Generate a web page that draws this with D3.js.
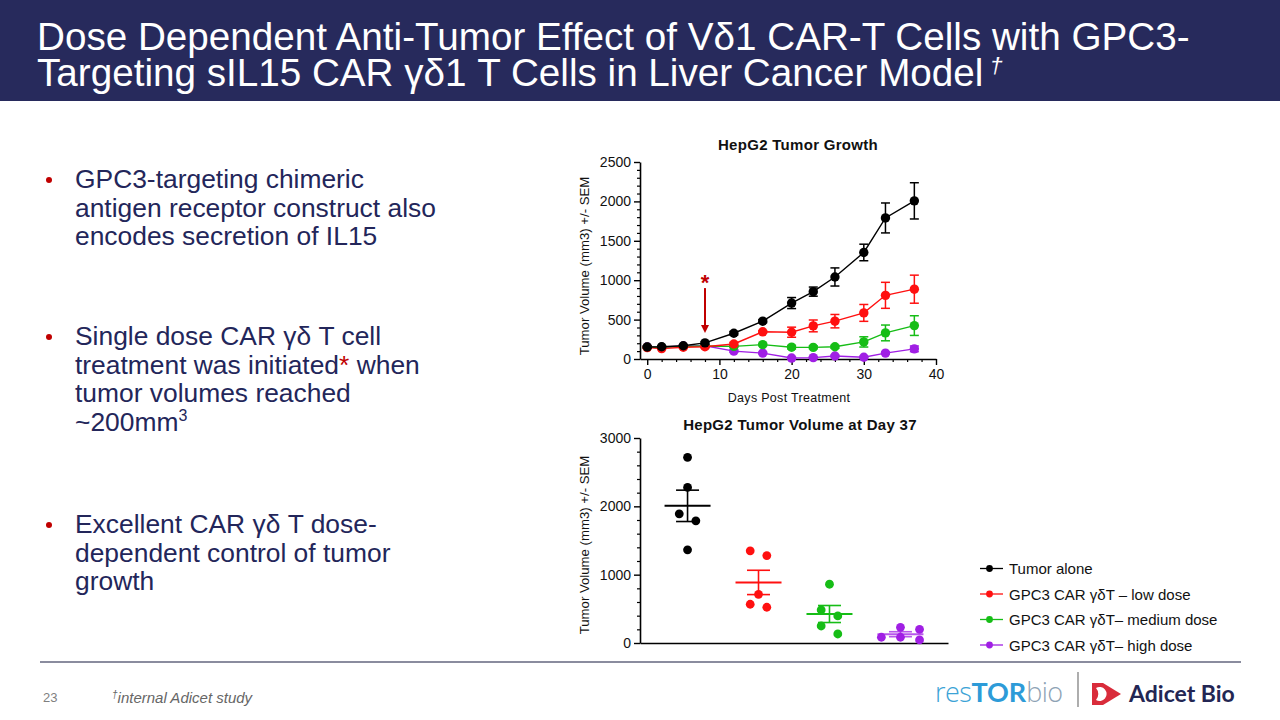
<!DOCTYPE html>
<html><head><meta charset="utf-8">
<script src="https://cdn.jsdelivr.net/npm/d3@7"></script>
<style>
html,body{margin:0;padding:0;background:#fff;}
svg{display:block;font-family:Arial,"Liberation Sans",sans-serif;}
</style></head>
<body><svg id="c" width="1280" height="720"></svg>
<script>
// ---------------- DATA ----------------
const titleLines = ["Dose Dependent Anti-Tumor Effect of V\u03b41 CAR-T Cells with GPC3-",
                    "Targeting sIL15 CAR \u03b3\u03b41 T Cells in Liver Cancer Model"];
const seriesNames = ["Tumor alone", "GPC3 CAR \u03b3\u03b4T \u2013 low dose", "GPC3 CAR \u03b3\u03b4T\u2013 medium dose", "GPC3 CAR \u03b3\u03b4T\u2013 high dose"];
const days = [0, 2, 5, 8, 12, 16, 20, 23, 26, 30, 33, 37];
const tumorAlone    = [152, 155, 168, 205, 327, 480, 710, 855, 1041, 1352, 1790, 2007];
const tumorAloneSem = [12, 10, 12, 15, 22, 20, 70, 58, 115, 105, 190, 230];
const lowDose       = [145, 132, 150, 155, 191, 345, 340, 420, 480, 585, 808, 886];
const lowDoseSem    = [10, 10, 10, 12, 20, 15, 64, 75, 85, 107, 165, 178];
const mediumDose    = [150, 150, 160, 165, 160, 183, 150, 148, 155, 217, 331, 424];
const mediumDoseSem = [10, 10, 10, 10, 12, 15, 22, 18, 18, 65, 100, 125];
const highDose      = [155, 150, 165, 168, 100, 75, 12, 18, 38, 22, 75, 129];
const highDoseSem   = [10, 10, 10, 10, 15, 10, 10, 10, 10, 10, 12, 36];
const treatmentDay = 8;
const day37Tumor  = [2717, 2277, 1891, 1788, 1363];
const day37Low    = [1349, 1280, 713, 567, 523];
const day37Medium = [860, 484, 396, 249, 132];
const day37High   = [230, 200, 84, 84, 45];
const growthYTicks = [0, 500, 1000, 1500, 2000, 2500];
const growthXTicks = [0, 10, 20, 30, 40];
const day37YTicks = [0, 1000, 2000, 3000];
const colors = ["#000000", "#ff1010", "#16bd16", "#a01fe4"];

// ---------------- SLIDE ----------------
const svg = d3.select("#c");
const navy = "#272a5c";
svg.append("rect").attr("x",0).attr("y",0).attr("width",1280).attr("height",101).attr("fill",navy);
// title: one text block, two lines, condensed to the slide width
const titleFs = 38;
const tg = svg.append("g");
const tt = tg.append("text").attr("fill","#fff").attr("font-size",titleFs);
tt.append("tspan").attr("x",0).attr("y",0).text(titleLines[0]);
const t2 = tt.append("tspan").attr("x",0).attr("y",36).text(titleLines[1]);
tt.append("tspan").attr("font-size",titleFs*0.6).attr("font-style","italic").attr("dy",-13).text(" \u2020");
const firstLen = tt.select("tspan").node().getComputedTextLength();
const sx = 1153/firstLen;
tg.attr("transform",`translate(37,50) scale(${sx},1)`);

// bullets
const textNavy = "#23265a";
const bullets = [
  {y:188, lines:[["GPC3-targeting chimeric"],["antigen receptor construct also"],["encodes secretion of IL15"]]},
  {y:345, lines:[["Single dose CAR \u03b3\u03b4 T cell"],["treatment was initiated", {t:"*",c:"#c00000"}, " when"],["tumor volumes reached"],["~200mm", {t:"3",sup:true}]]},
  {y:533, lines:[["Excellent CAR \u03b3\u03b4 T dose-"],["dependent control of tumor"],["growth"]]}
];
bullets.forEach(b=>{
  svg.append("circle").attr("cx",49).attr("cy",b.y-8).attr("r",3).attr("fill","#c00000");
  b.lines.forEach((ln,i)=>{
    const t = svg.append("text").attr("x",75).attr("y",b.y+i*28.5).attr("font-size",26.4).attr("fill",textNavy);
    ln.forEach(p=>{
      if (typeof p === "string") t.append("tspan").text(p);
      else if (p.sup) t.append("tspan").attr("font-size",16).attr("dy",-10).text(p.t);
      else t.append("tspan").attr("fill",p.c).text(p.t);
    });
  });
});

// footer
svg.append("line").attr("x1",40).attr("x2",1241).attr("y1",662).attr("y2",662).attr("stroke","#8a8c9e").attr("stroke-width",2);
svg.append("text").attr("x",43).attr("y",702).attr("font-size",13).attr("fill","#7f7f7f").text("23");
svg.append("text").attr("x",112).attr("y",703).attr("font-size",15).attr("font-style","italic").attr("fill","#666")
  .html('<tspan font-size="10" dy="-5">\u2020</tspan><tspan dy="5">internal Adicet study</tspan>');
// logos
const lg = svg.append("text").attr("x",935).attr("y",702).attr("font-size",27);
lg.append("tspan").attr("fill","#3ba3d6").attr("font-weight",300).attr("font-family","'Open Sans',Lato,sans-serif").attr("letter-spacing",-0.5).text("res");
lg.append("tspan").attr("fill","#2d9bd8").attr("font-weight",700).attr("font-family","Lato,'Open Sans',sans-serif").text("TOR");
lg.append("tspan").attr("fill","#8ea3b5").attr("font-weight",300).attr("font-family","'Open Sans',Lato,sans-serif").attr("letter-spacing",-0.5).text("bio");
svg.append("line").attr("x1",1078).attr("x2",1078).attr("y1",672).attr("y2",707).attr("stroke","#777").attr("stroke-width",1.2);
svg.append("path").attr("d","M1092,683 L1103,683 L1121,694 L1103,705 L1092,705 Z").attr("fill","#d92c3b");
svg.append("path").attr("d","M1096,688 A7,7 0 1 1 1096,700 A9,9 0 0 0 1096,688 Z").attr("fill","#fff");
svg.append("text").attr("x",1129).attr("y",702).attr("font-size",23).attr("font-weight",700)
  .attr("font-family","Lato,'Open Sans',sans-serif").attr("fill","#232653").text("Adicet Bio");

// ---------------- TOP CHART ----------------
const x1 = d3.scaleLinear().domain([-1,40]).range([640,936]);
const y1 = d3.scaleLinear().domain([0,2500]).range([359,162]);
const g1 = svg.append("g");
g1.append("text").attr("x",798).attr("y",150).attr("text-anchor","middle").attr("font-size",15).attr("font-weight",700)
  .attr("letter-spacing",0.3).attr("fill","#111").text("HepG2 Tumor Growth");
g1.append("text").attr("transform","translate(589,266) rotate(-90)").attr("text-anchor","middle").attr("font-size",13.2)
  .attr("fill","#111").text("Tumor Volume (mm3) +/- SEM");
g1.append("text").attr("x",789).attr("y",402).attr("text-anchor","middle").attr("font-size",12.5).attr("letter-spacing",0.3)
  .attr("fill","#111").text("Days Post Treatment");

const fmt = d3.format("d");
function styleAxis(g){
  g.selectAll(".domain").attr("stroke","#000").attr("stroke-width",1.6);
  g.selectAll(".tick line").attr("stroke","#000").attr("stroke-width",1.4);
  g.selectAll(".tick text").attr("font-size",14).attr("fill","#111").attr("font-family","Arial,'Liberation Sans',sans-serif");
}
// y axis
const ya1 = g1.append("g").attr("transform","translate(640,0)")
  .call(d3.axisLeft(y1).tickValues(growthYTicks).tickFormat(fmt).tickSize(6).tickPadding(3).tickSizeOuter(0));
styleAxis(ya1);
g1.append("g").attr("transform","translate(640,0)")
  .call(d3.axisLeft(y1).tickValues(d3.range(0,2501,100).filter(v=>v%500)).tickSize(3).tickFormat(""))
  .call(g=>{g.select(".domain").remove(); g.selectAll("line").attr("stroke","#000").attr("stroke-width",1.2);});
// x axis
const xa1 = g1.append("g").attr("transform","translate(0,359)")
  .call(d3.axisBottom(x1).tickValues(growthXTicks).tickFormat(fmt).tickSize(6).tickPadding(4).tickSizeOuter(0));
styleAxis(xa1);
g1.append("g").attr("transform","translate(0,359)")
  .call(d3.axisBottom(x1).tickValues(d3.range(2,40,2).filter(v=>v%10)).tickSize(3).tickFormat(""))
  .call(g=>{g.select(".domain").remove(); g.selectAll("line").attr("stroke","#000").attr("stroke-width",1.2);});

const series = [
  {vals:tumorAlone, sem:tumorAloneSem, c:colors[0]},
  {vals:lowDose, sem:lowDoseSem, c:colors[1]},
  {vals:mediumDose, sem:mediumDoseSem, c:colors[2]},
  {vals:highDose, sem:highDoseSem, c:colors[3]}
];
const line = d3.line().x(d=>x1(d.d)).y(d=>y1(d.v));
series.slice().reverse().forEach(s=>{
  const pts = days.map((d,i)=>({d, v:s.vals[i], e:s.sem[i]}));
  const gs = g1.append("g");
  gs.append("path").datum(pts).attr("d",line).attr("fill","none").attr("stroke",s.c).attr("stroke-width",1.4);
  const eb = gs.selectAll("g.eb").data(pts).join("g").attr("stroke",s.c).attr("stroke-width",1.5);
  eb.append("line").attr("x1",d=>x1(d.d)).attr("x2",d=>x1(d.d)).attr("y1",d=>y1(d.v+d.e)).attr("y2",d=>y1(d.v-d.e));
  eb.append("line").attr("x1",d=>x1(d.d)-4.5).attr("x2",d=>x1(d.d)+4.5).attr("y1",d=>y1(d.v+d.e)).attr("y2",d=>y1(d.v+d.e));
  eb.append("line").attr("x1",d=>x1(d.d)-4.5).attr("x2",d=>x1(d.d)+4.5).attr("y1",d=>y1(d.v-d.e)).attr("y2",d=>y1(d.v-d.e));
  gs.selectAll("circle").data(pts).join("circle").attr("cx",d=>x1(d.d)).attr("cy",d=>y1(d.v)).attr("r",4.7).attr("fill",s.c);
});
// treatment arrow
const arrowC = "#c00000";
g1.append("line").attr("x1",x1(treatmentDay)).attr("x2",x1(treatmentDay)).attr("y1",y1(900)).attr("y2",y1(420))
  .attr("stroke",arrowC).attr("stroke-width",2);
g1.append("path").attr("d",`M${x1(treatmentDay)-4},${y1(430)} L${x1(treatmentDay)+4},${y1(430)} L${x1(treatmentDay)},${y1(330)} Z`).attr("fill",arrowC);
g1.append("text").attr("x",x1(treatmentDay)).attr("y",y1(880)).attr("text-anchor","middle").attr("font-size",22).attr("font-weight",700)
  .attr("fill",arrowC).text("*");

// ---------------- BOTTOM CHART ----------------
const groups = [day37Tumor, day37Low, day37Medium, day37High];
const xb = d3.scalePoint().domain(d3.range(groups.length)).range([640,948]).padding(0.67);
const yb = d3.scaleLinear().domain([0,3000]).range([643,438]);
const g2 = svg.append("g");
g2.append("text").attr("x",800).attr("y",430).attr("text-anchor","middle").attr("font-size",15).attr("font-weight",700)
  .attr("letter-spacing",0.3).attr("fill","#111").text("HepG2 Tumor Volume at Day 37");
g2.append("text").attr("transform","translate(589,545) rotate(-90)").attr("text-anchor","middle").attr("font-size",13.2)
  .attr("fill","#111").text("Tumor Volume (mm3) +/- SEM");
const ya2 = g2.append("g").attr("transform","translate(640,0)")
  .call(d3.axisLeft(yb).tickValues(day37YTicks).tickFormat(fmt).tickSize(6).tickPadding(3).tickSizeOuter(0));
styleAxis(ya2);
g2.append("g").attr("transform","translate(640,0)")
  .call(d3.axisLeft(yb).tickValues(d3.range(0,3001,200).filter(v=>v%1000)).tickSize(3).tickFormat(""))
  .call(g=>{g.select(".domain").remove(); g.selectAll("line").attr("stroke","#000").attr("stroke-width",1.2);});
const xa2 = g2.append("g").attr("transform","translate(0,643)")
  .call(d3.axisBottom(d3.scaleLinear().domain([0,1]).range([640,948])).tickValues([]).tickSizeOuter(0));
styleAxis(xa2);

// swarm layout computed from values
function swarmOffsets(vals, y, gap, step){
  const items = vals.map((v,i)=>({v, py:y(v), i})).sort((a,b)=>a.py-b.py);
  const clusters = []; let cur = [];
  items.forEach((it,k)=>{
    if (k>0 && it.py - items[k-1].py >= gap){ clusters.push(cur); cur=[]; }
    cur.push(it);
  });
  clusters.push(cur);
  clusters.forEach(cl=>{
    if (cl.length<=2) cl.forEach((it,j)=>it.dx=(j-(cl.length-1)/2)*step);
    else { const cols=[0,1,-1]; cl.forEach((it,j)=>it.dx=cols[j%3]*step*1.15); }
  });
  return items;
}
groups.forEach((vals,gi)=>{
  const c = colors[gi], cx = xb(gi);
  const m = d3.mean(vals), sem = d3.deviation(vals)/Math.sqrt(vals.length);
  const pts = swarmOffsets(vals, yb, 9, 16.6);
  const gg = g2.append("g");
  gg.selectAll("circle").data(pts).join("circle").attr("cx",d=>cx+d.dx).attr("cy",d=>d.py).attr("r",4.4).attr("fill",c);
  const st = gg.append("g").attr("stroke",c).attr("stroke-opacity", gi===3?0.75:1);
  st.append("line").attr("x1",cx-23).attr("x2",cx+23).attr("y1",yb(m)).attr("y2",yb(m)).attr("stroke-width",2);
  st.append("line").attr("x1",cx).attr("x2",cx).attr("y1",yb(m+sem)).attr("y2",yb(m-sem)).attr("stroke-width",1.6);
  [m+sem, m-sem].forEach(v=>st.append("line").attr("x1",cx-11.5).attr("x2",cx+11.5).attr("y1",yb(v)).attr("y2",yb(v)).attr("stroke-width",1.6));
});

// ---------------- LEGEND ----------------
const lgd = svg.append("g");
seriesNames.forEach((n,i)=>{
  const yy = 568.5 + i*25.5;
  lgd.append("line").attr("x1",980).attr("x2",1003).attr("y1",yy).attr("y2",yy).attr("stroke",colors[i]).attr("stroke-width",1.3);
  lgd.append("circle").attr("cx",989.5).attr("cy",yy).attr("r",3.4).attr("fill",colors[i]);
  lgd.append("text").attr("x",1009).attr("y",yy+5.5).attr("font-size",15).attr("fill","#111").text(n);
});
</script>
</body></html>
